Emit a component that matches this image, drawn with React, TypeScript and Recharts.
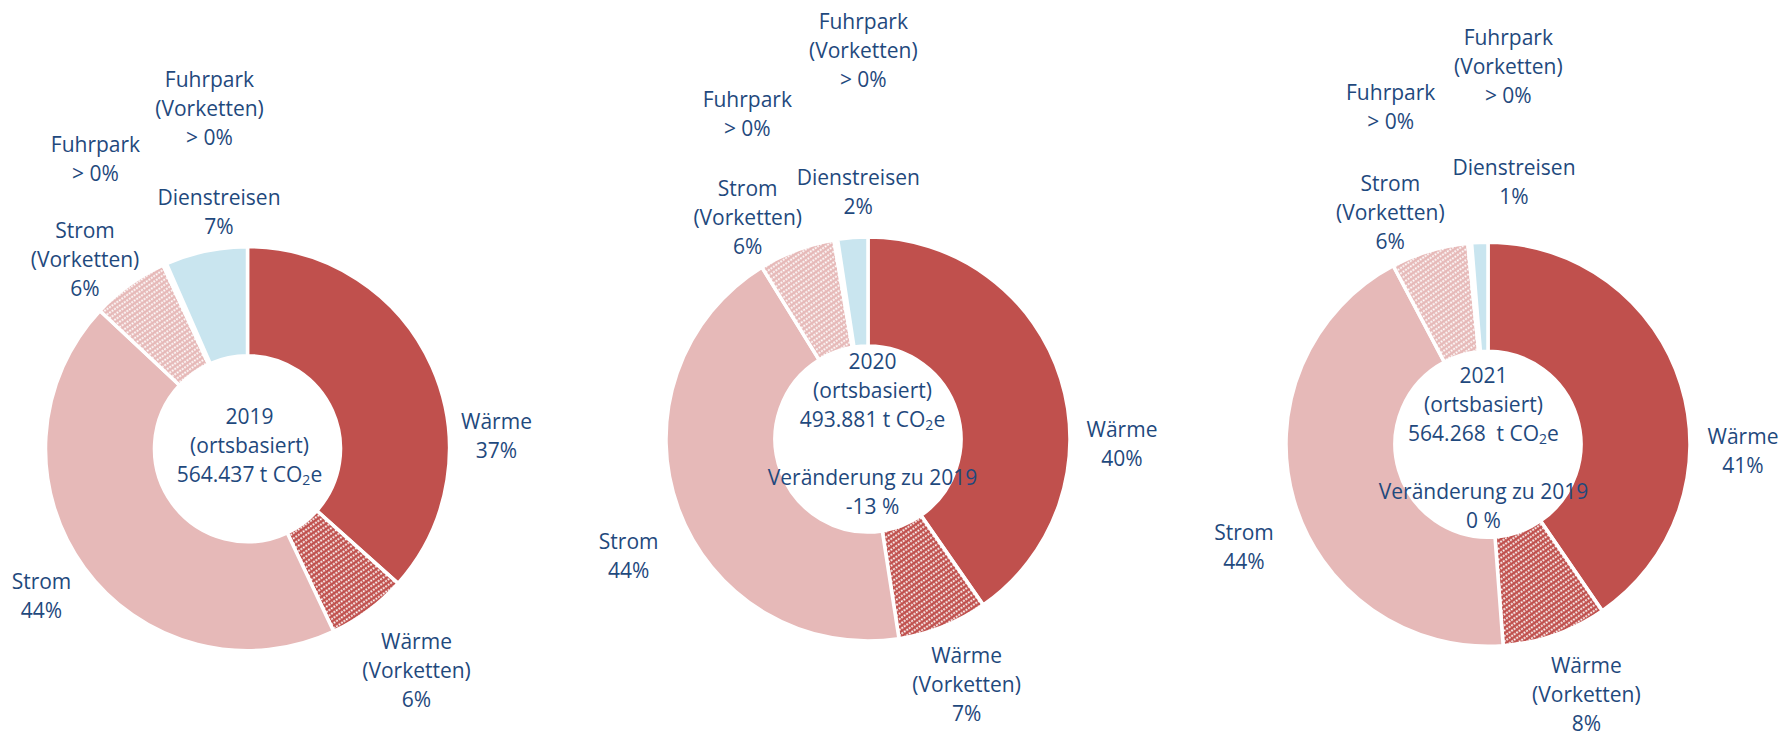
import { PieChart, Pie, Cell } from "recharts";

// shares in % (Fuhrpark slices are just above zero)
const categories = [
  "Wärme",
  "Wärme (Vorketten)",
  "Strom",
  "Strom (Vorketten)",
  "Fuhrpark",
  "Fuhrpark (Vorketten)",
  "Dienstreisen",
];
const years = ["2019", "2020", "2021"];
const share2019 = [36.8, 6.4, 44.2, 6.2, 0.2, 0.1, 6.6];
const share2020 = [40.3, 7.2, 43.6, 6.1, 0.2, 0.1, 2.4];
const share2021 = [40.6, 8.4, 43.6, 6.2, 0.2, 0.1, 1.3];
const totals = ["564.437", "493.881", "564.268\u00a0"];
const changes = ["", "-13 %", "0 %"];

const shares = [share2019, share2020, share2021];

// layout
const W = 1791;
const H = 735;
const INNER = 93;
const OUTER = 202;
const LINE = 29;
const FONT = 21;
const TEXT = "#1F497D";
const FAMILY = "'Open Sans', sans-serif";

const CENTERS: [number, number][] = [
  [247.5, 448.7],
  [868, 439],
  [1488, 444.2],
];

// label block offsets (first line) relative to each donut centre
const LABEL_OFFSETS: [number, number][][] = [
  [[249, -28], [169, 192.6], [-206, 132.6], [-162.5, -219], [-152, -304.3], [-38, -370], [-28.5, -251.8]],
  [[254, -10.5], [98.6, 216.4], [-239.3, 101.6], [-120.3, -251.5], [-120.7, -340], [-4.7, -418], [-9.7, -261.8]],
  [[255, -8], [98.4, 220.6], [-244, 87.8], [-97.7, -261.4], [-97.3, -351.8], [20.3, -407.6], [26, -276.8]],
];
const CENTER_TEXT_OFFSET: [number, number][] = [
  [2, -32.4],
  [4.5, -78],
  [-4.5, -69.2],
];

const FILLS = [
  "#C0504D",
  "url(#hatchRed)",
  "#E6B9B8",
  "url(#hatchPink)",
  "#A6A6A6",
  "#7F7F7F",
  "#C9E5EF",
];

const pct = (v: number) => (v < 0.5 ? "> 0%" : `${Math.round(v)}%`);
const nameLines = (name: string) => {
  const i = name.indexOf(" (");
  return i < 0 ? [name] : [name.slice(0, i), name.slice(i + 1)];
};

const makeLabel = (chart: number) => (p: any) => {
  const [cx, cy] = CENTERS[chart];
  const [dx, dy] = LABEL_OFFSETS[chart][p.index];
  const lines = [...nameLines(categories[p.index]), pct(shares[chart][p.index])];
  return (
    <text
      textAnchor="middle"
      dominantBaseline="central"
      fill={TEXT}
      fontSize={FONT}
      fontFamily={FAMILY}
    >
      {lines.map((l, i) => (
        <tspan key={i} x={cx + dx} y={cy + dy + i * LINE}>
          {l}
        </tspan>
      ))}
    </text>
  );
};

function Hatch({ id, color }: { id: string; color: string }) {
  return (
    <pattern
      id={id}
      patternUnits="userSpaceOnUse"
      width={3}
      height={4.4}
      patternTransform="rotate(-35)"
    >
      <rect width={3} height={4.4} fill={color} />
      <line
        x1={0}
        y1={2.2}
        x2={3}
        y2={2.2}
        stroke="#fff"
        strokeWidth={1.7}
        strokeDasharray="1.9 1.1"
      />
    </pattern>
  );
}

export default function App() {
  return (
    <div style={{ position: "absolute", left: 0, top: 0, width: W, height: H, background: "#fff" }}>
      <svg width={0} height={0} style={{ position: "absolute" }}>
        <defs>
          <Hatch id="hatchRed" color="#C0504D" />
          <Hatch id="hatchPink" color="#E6B9B8" />
        </defs>
      </svg>
      <PieChart width={W} height={H} margin={{ top: 0, right: 0, bottom: 0, left: 0 }}>
        {shares.map((s, chart) => (
          <Pie
            key={years[chart]}
            data={categories.map((name, i) => ({ name, value: s[i] }))}
            dataKey="value"
            nameKey="name"
            cx={CENTERS[chart][0]}
            cy={CENTERS[chart][1]}
            innerRadius={INNER}
            outerRadius={OUTER}
            startAngle={90}
            endAngle={-270}
            stroke="#fff"
            strokeWidth={3.5}
            label={makeLabel(chart)}
            labelLine={false}
            isAnimationActive={false}
          >
            {categories.map((c, i) => (
              <Cell key={c} fill={FILLS[i]} />
            ))}
          </Pie>
        ))}
      </PieChart>
      <svg
        width={W}
        height={H}
        style={{ position: "absolute", left: 0, top: 0, pointerEvents: "none" }}
      >
        {years.map((y, chart) => {
          const x = CENTERS[chart][0] + CENTER_TEXT_OFFSET[chart][0];
          const y0 = CENTERS[chart][1] + CENTER_TEXT_OFFSET[chart][1];
          return (
            <text
              key={y}
              textAnchor="middle"
              dominantBaseline="central"
              fill={TEXT}
              fontSize={FONT}
              fontFamily={FAMILY}
              style={{ whiteSpace: "pre" }}
            >
              <tspan x={x} y={y0}>{y}</tspan>
              <tspan x={x} y={y0 + LINE}>(ortsbasiert)</tspan>
              <tspan x={x} y={y0 + 2 * LINE}>
                {totals[chart]} t CO
                <tspan fontSize={14} dy={5}>2</tspan>
                <tspan dy={-5}>e</tspan>
              </tspan>
              {changes[chart] && (
                <>
                  <tspan x={x} y={y0 + 4 * LINE}>Veränderung zu 2019</tspan>
                  <tspan x={x} y={y0 + 5 * LINE}>{changes[chart]}</tspan>
                </>
              )}
            </text>
          );
        })}
      </svg>
    </div>
  );
}
